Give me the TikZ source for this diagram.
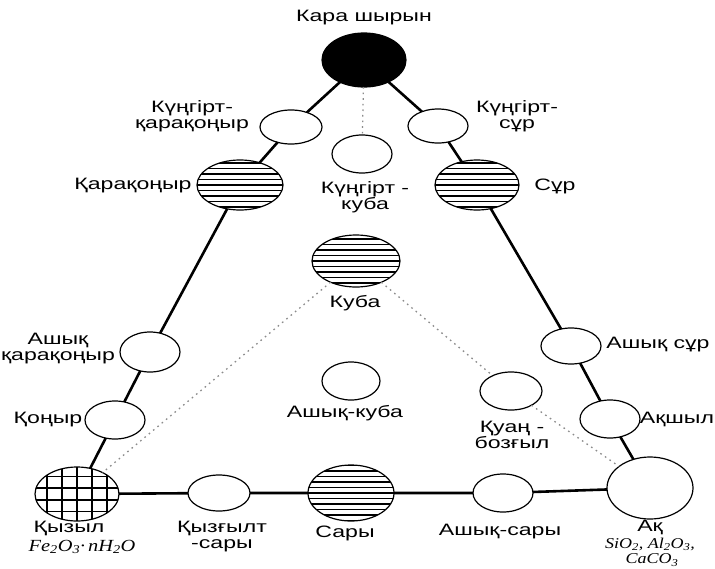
\documentclass[tikz,border=0pt]{standalone}
\usepackage{fontspec}
\setmainfont{Liberation Sans}[FakeStretch=1.4]
\newfontfamily\formfont{Liberation Serif}[FakeStretch=1.2]
\usetikzlibrary{shapes.geometric}
\newcommand\lblfont{\fontsize{16.5}{16}\selectfont}
\newcommand\frmfont{\formfont\itshape\fontsize{17}{15}\selectfont}
\newcommand\frmsmall{\formfont\itshape\fontsize{15}{14}\selectfont}
\tikzset{
  ell/.style 2 args={ellipse, draw=black, line width=1.2pt, fill=white,
    inner sep=0pt, outer sep=0pt, minimum width=#1pt, minimum height=#2pt},
  hatch/.style={path picture={
    \foreach \k in {-7,...,7}
      \draw[line width=1.3pt] ([yshift=\k*5.5pt]path picture bounding box.west)
        -- ([yshift=\k*5.5pt]path picture bounding box.east);}},
  grid/.style={path picture={
    \foreach \k in {-30,-15,0,15,30}
      \draw[line width=1.6pt] ([xshift=\k pt]path picture bounding box.north)
        -- ([xshift=\k pt]path picture bounding box.south);
    \foreach \k in {-17.5,-5.8,5.8,17.5}
      \draw[line width=1.6pt] ([yshift=\k pt]path picture bounding box.west)
        -- ([yshift=\k pt]path picture bounding box.east);}},
  edge/.style={line width=2.6pt, black},
  dotline/.style={line width=1.3pt, black!45, dash pattern=on 1.6pt off 4pt},
  lab/.style={inner sep=0pt, align=center, font=\lblfont},
  frm/.style={inner sep=0pt, align=center, font=\frmfont},
}
\begin{document}
\begin{tikzpicture}[x=1pt,y=-1pt]
\fill[white] (0,0) rectangle (715,568);
\useasboundingbox (0,0) rectangle (715,568);

% nodes
\node[ell={84}{54}, fill=black] (blk) at (364,60) {};
\node[ell={62}{34}] (kkq) at (291,127) {};
\node[ell={86}{50}, hatch] (kq) at (240,185) {};
\node[ell={60}{34}] (kks) at (438,126) {};
\node[ell={84}{50}, hatch] (ks) at (477,185) {};
\node[ell={60}{38}] (kkk) at (362,154) {};
\node[ell={88}{52}, hatch] (kub) at (356,261) {};
\node[ell={60}{40}] (aqq) at (150,352) {};
\node[ell={60}{38}] (kon) at (115,420) {};
\node[ell={84}{54}, grid] (kyz) at (77,494) {};
\node[ell={62}{36}] (kys) at (219,493) {};
\node[ell={86}{56}, hatch] (sar) at (351,493) {};
\node[ell={60}{38}] (asa) at (503,493) {};
\node[ell={60}{36}] (as) at (571,346) {};
\node[ell={60}{38}] (aksh) at (610,419) {};
\node[ell={62}{38}] (qb) at (511,391) {};
\node[ell={58}{38}] (aky) at (351,381) {};
\node[ell={86}{62}] (ak) at (650,488) {};

% labels
\node[lab] (lblk) at (364,18) {Кара шырын};
\node[lab] (lkkq) at (192,116) {Күңгірт-\\қарақоңыр};
\node[lab] (lkq) at (133,186) {Қарақоңыр};
\node[lab] (lkks) at (517,116) {Күңгірт-\\сұр};
\node[lab] (lks) at (555,186) {Сұр};
\node[lab] (lkkk) at (365,197) {Күңгірт -\\куба};
\node[lab] (lkub) at (355,303) {Куба};
\node[lab] (laqq) at (58,349) {Ашық\\қарақоңыр};
\node[lab] (lkon) at (48,420) {Қоңыр};
\node[lab] (lkyz) at (69,528) {Қызыл};
\node[frm] (fkyz) at (82,547) {Fe\textsubscript{2}O\textsubscript{3}·\,nH\textsubscript{2}O};
\node[lab] (lkys) at (222,537) {Қызғылт\\-сары};
\node[lab] (lsar) at (345,533) {Сары};
\node[lab] (lasa) at (500,532) {Ашық-сары};
\node[lab] (las) at (658,345) {Ашық сұр};
\node[lab] (laksh) at (677,419) {Ақшыл};
\node[lab] (lqb) at (512,435) {Қуаң -\\бозғыл};
\node[lab] (laky) at (345,413) {Ашық-куба};
\node[lab] (lak) at (650,527) {Ақ};
\node[frm, font=\frmsmall] (fak1) at (650,544) {SiO\textsubscript{2}, Al\textsubscript{2}O\textsubscript{3},};
\node[frm, font=\frmsmall] (fak2) at (652,560) {CaCO\textsubscript{3}};

% connectors
\draw[edge] (blk) -- (kkq) -- (kq) -- (aqq) -- (kon) -- (kyz);
\draw[edge] (blk) -- (kks) -- (ks) -- (as) -- (aksh) -- (ak);
\draw[edge] (kyz) -- (kys) -- (sar) -- (asa) -- (ak);
\draw[dotline] (blk) -- (kkk);
\draw[dotline] (kub) -- (kyz);
\draw[dotline] (kub) -- (qb) -- (ak);
\end{tikzpicture}
\end{document}
